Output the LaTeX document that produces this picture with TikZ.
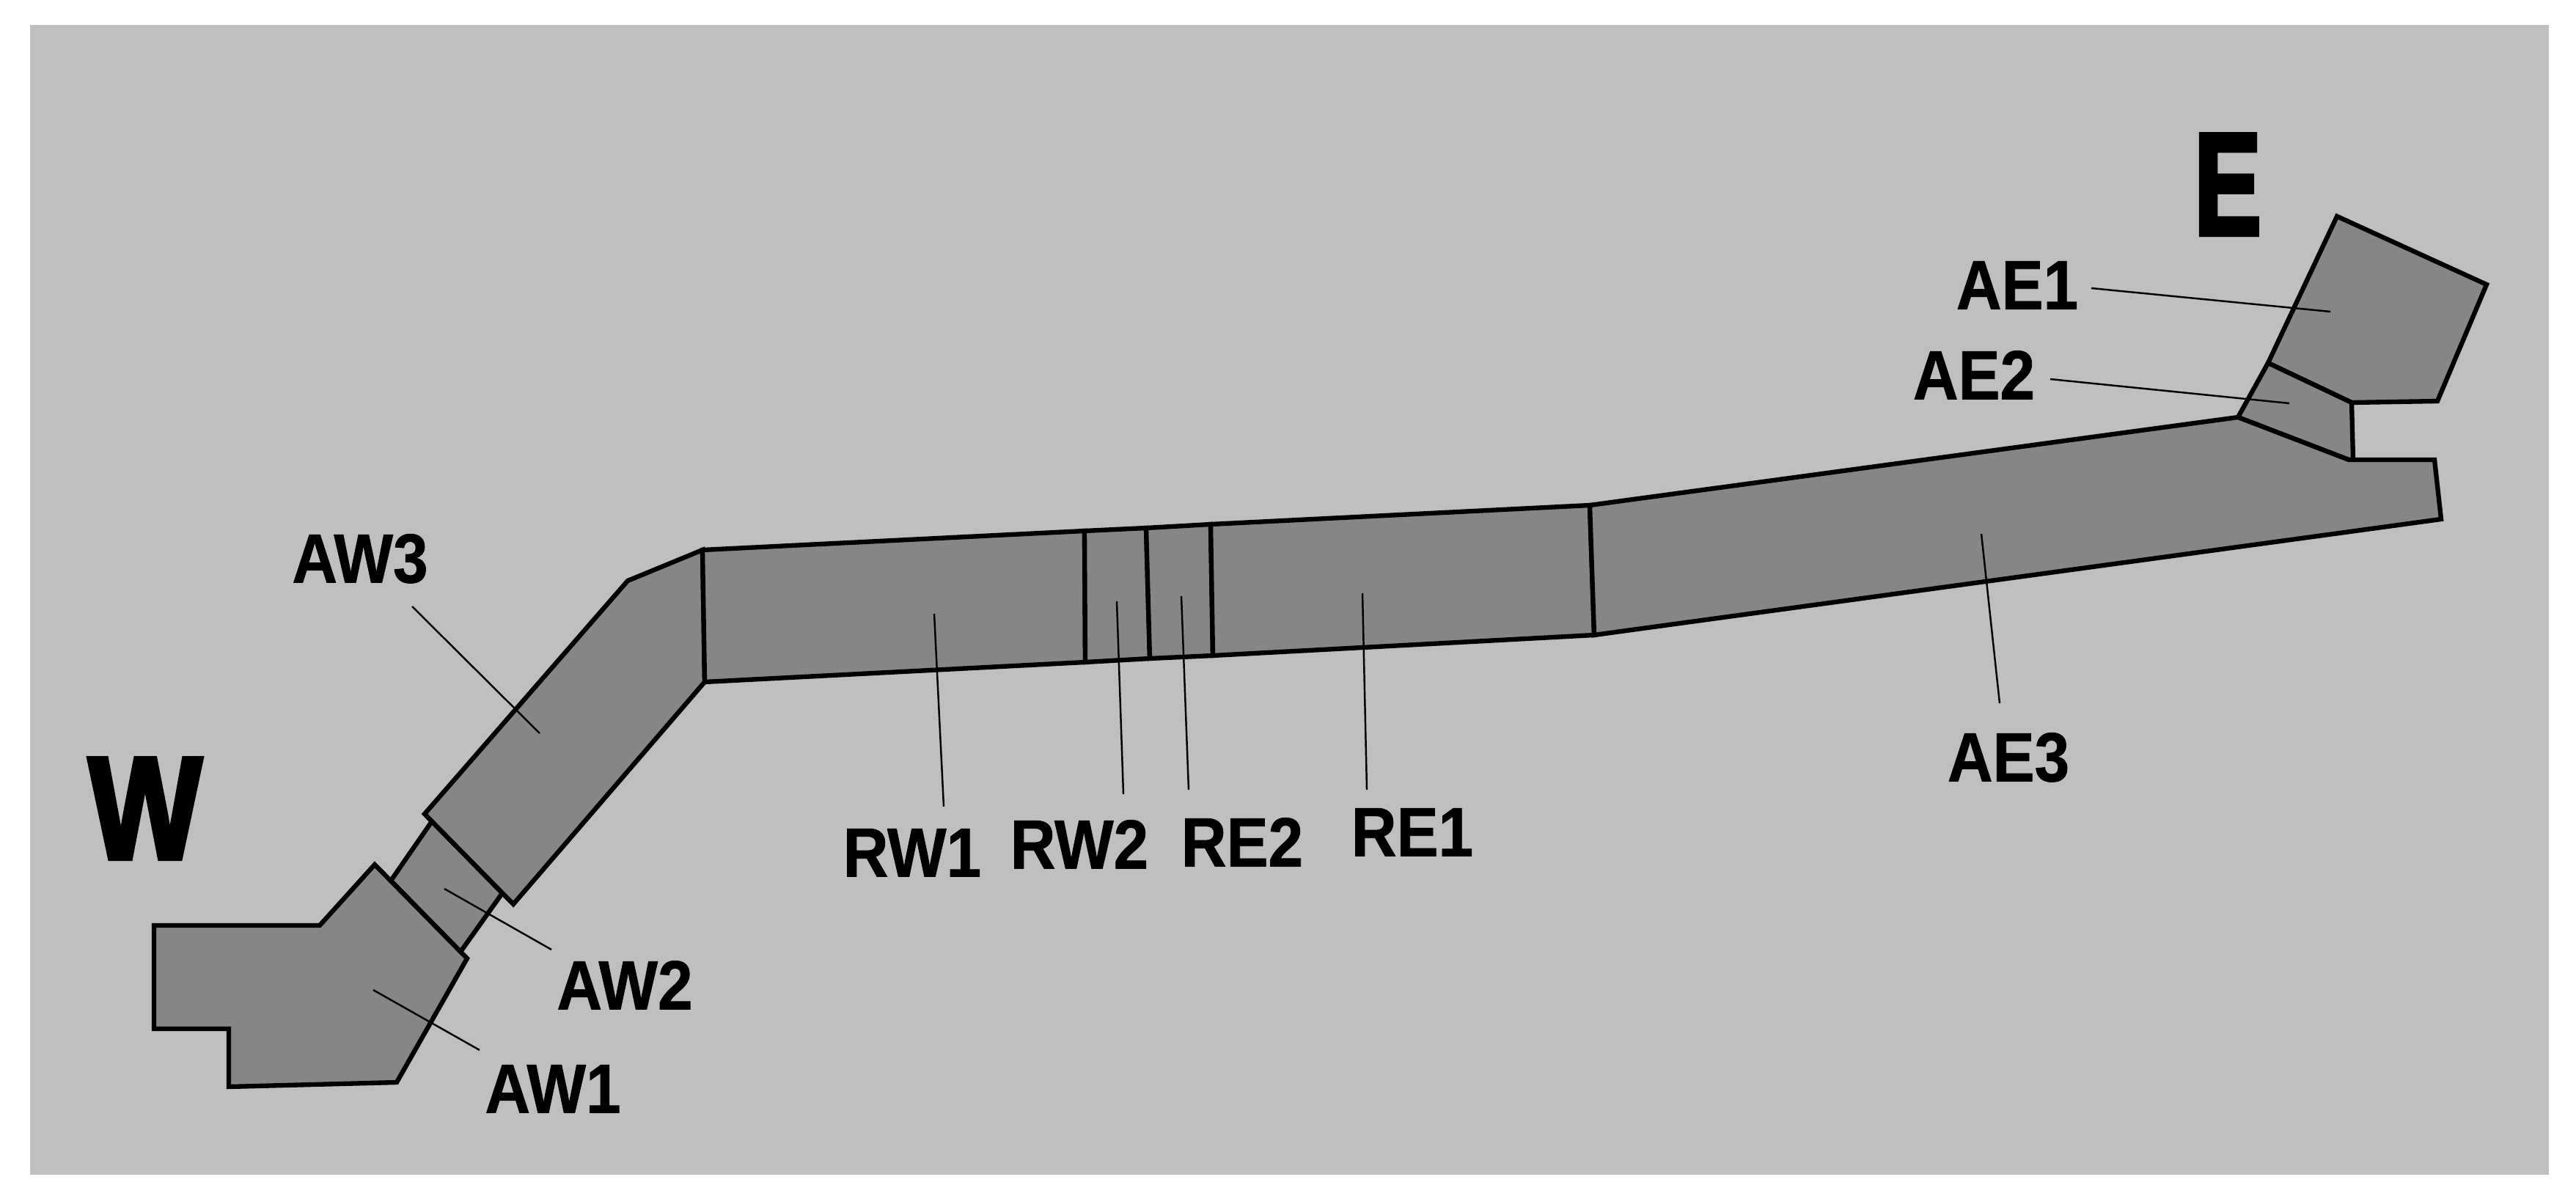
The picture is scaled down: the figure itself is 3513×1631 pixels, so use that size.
\documentclass[tikz,border=0pt]{standalone}
\usepackage{fontspec}
\setmainfont[FakeStretch=0.9,BoldFeatures={FakeBold=0.8}]{Liberation Sans}
\newfontfamily\bigfont[FakeStretch=0.82,FakeBold=3]{Liberation Sans Bold}
\newfontfamily\narrowfont[FakeStretch=0.68,FakeBold=3]{Liberation Sans Bold}
\usetikzlibrary{positioning}

\tikzset{
    section/.style={draw=black, fill=secgray, line width=1.8pt, line join=miter},
    leader/.style={draw=black, line width=0.7pt},
    tag/.style={inner sep=0pt, text height=19.6pt, text depth=0pt, font=\fontsize{27}{27}\selectfont\bfseries},
    side/.style={inner sep=0pt, text height=41pt, text depth=0pt, font=\fontsize{56.6}{56.6}\selectfont}
}
\definecolor{secgray}{HTML}{868686}
\definecolor{panelgray}{HTML}{BFBFBF}

\begin{document}
\begin{tikzpicture}[x=0.01cm, y=-0.01cm]

    \useasboundingbox (0,0) rectangle (3513,1631);
    \fill[panelgray] (41,34) rectangle (3476,1602);

    % west end
    \draw[section] (589,1120) -- (685,1218) -- (628,1298) -- (533,1201) -- cycle;
    \draw[section] (210,1262) -- (436,1262) -- (511,1179) -- (637,1307) -- (541,1476)
        -- (312,1482) -- (312,1403) -- (210,1403) -- cycle;
    \draw[section] (579,1110) -- (856,792) -- (958,750) -- (961,930) -- (700,1233) -- cycle;

    % runway
    \draw[section] (958,750) -- (1479,724) -- (1480,903) -- (961,930) -- cycle;
    \draw[section] (1479,724) -- (1563,720) -- (1568,898) -- (1480,903) -- cycle;
    \draw[section] (1563,720) -- (1651,715) -- (1654,894) -- (1568,898) -- cycle;
    \draw[section] (1651,715) -- (2168,689) -- (2174,866) -- (1654,894) -- cycle;

    % east end
    \draw[section] (3093,495) -- (3187,295) -- (3391,388) -- (3324,547) -- (3207,549) -- cycle;
    \draw[section] (3052,569) -- (3093,495) -- (3207,549) -- (3209,627) -- (3203,627) -- cycle;
    \draw[section] (2168,689) -- (3052,569) -- (3203,627) -- (3320,627) -- (3329,708) -- (2174,866) -- cycle;

    \node[side, font=\fontsize{56.6}{56.6}\selectfont\bigfont] (labelW) at (198,1099) {W};
    \node[side, font=\fontsize{56.6}{56.6}\selectfont\narrowfont] (labelE) at (3038,248) {E};

    \foreach \name/\x/\y in {AW3/491/760, AW2/852/1342, AW1/754/1483, RW1/1244/1161, RW2/1472/1150,
        RE2/1694/1147, RE1/1926/1133, AE3/2739/1031, AE1/2751/387, AE2/2692/510} {
        \node[tag] (label\name) at (\x,\y) {\name};
    };

    \coordinate (tipAW3) at (736,1000);
    \coordinate (tipAW2) at (606,1212);
    \coordinate (tipAW1) at (509,1350);
    \coordinate (tipRW1) at (1274,837);
    \coordinate (tipRW2) at (1523,820);
    \coordinate (tipRE2) at (1611,813);
    \coordinate (tipRE1) at (1858,809);
    \coordinate (tipAE3) at (2702,728);
    \coordinate (tipAE1) at (3178,425);
    \coordinate (tipAE2) at (3122,550);

    \foreach \name/\dx/\dy in {AW3/71/67, AW2/-100/-47, AW1/-100/-51, RW1/43/-61, RW2/60/-67,
        RE2/-73/-70, RE1/-62/-56, AE3/-12/-72, AE1/101/6, AE2/104/7} {
        \draw[leader] ([shift={(\dx,\dy)}]label\name.center) -- (tip\name);
    };
\end{tikzpicture}
\end{document}
